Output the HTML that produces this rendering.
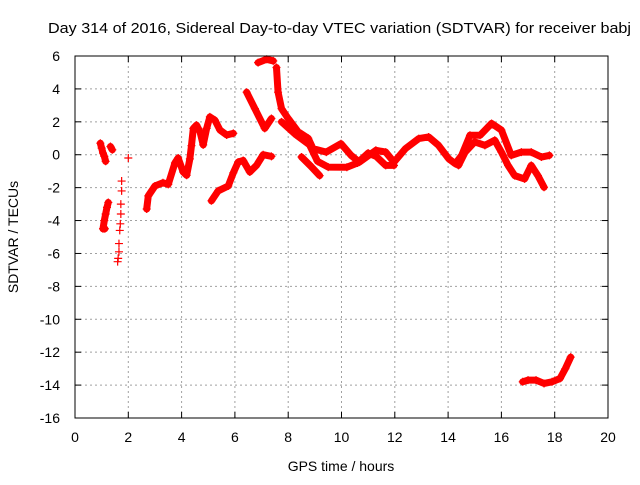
<!DOCTYPE html>
<html><head><meta charset="utf-8"><style>
body{margin:0;background:#fff}
svg text{font-family:"Liberation Sans",sans-serif;font-size:14px;fill:#000}
</style></head><body>
<svg width="640" height="480" viewBox="0 0 640 480" xmlns="http://www.w3.org/2000/svg">
<rect width="640" height="480" fill="#fff"/>
<g id="grid"></g>
<g id="ticks"></g>
<g id="marks"></g>
<rect x="75" y="56" width="533" height="362" fill="none" stroke="#000" stroke-width="1"/>
<text x="48" y="33" textLength="583" lengthAdjust="spacingAndGlyphs" style="font-size:15px">Day 314 of 2016, Sidereal Day-to-day VTEC variation (SDTVAR) for receiver babj</text>
<text x="341" y="471" text-anchor="middle">GPS time / hours</text>
<text x="18" y="237" text-anchor="middle" transform="rotate(-90 18 237)">SDTVAR / TECUs</text>
</svg>
<script>
const xTicks=[0,2,4,6,8,10,12,14,16,18,20];
const yTicks=[6,4,2,0,-2,-4,-6,-8,-10,-12,-14,-16];
const trackA=[[0.95,0.7],[1.0,0.4],[1.05,0.1],[1.1,-0.1],[1.15,-0.4]];
const trackB=[[1.33,0.5],[1.4,0.3]];
const trackC=[[1.25,-2.9],[1.2,-3.2],[1.15,-3.6],[1.1,-4.0],[1.05,-4.5],[1.12,-4.5]];
const trackD=[[1.75,-1.6],[1.75,-2.2],[1.72,-3.0],[1.72,-3.6],[1.7,-4.2],[1.68,-4.6],[1.65,-5.4],[1.65,-5.9],[1.62,-6.3],[1.6,-6.5]];
const trackE=[[2.0,-0.2]];
const trackF=[[2.69,-3.3],[2.75,-2.5],[3.0,-1.9],[3.3,-1.7],[3.5,-1.8],[3.75,-0.5],[3.87,-0.2],[4.06,-1.05],[4.19,-1.25],[4.31,-0.25],[4.37,0.55],[4.44,1.6],[4.56,1.8],[4.69,1.4],[4.81,0.6],[4.94,1.6],[5.06,2.3],[5.25,2.1],[5.44,1.5],[5.69,1.2],[5.94,1.3]];
const trackG=[[5.12,-2.8],[5.37,-2.2],[5.75,-1.9],[5.94,-1.1],[6.12,-0.45],[6.31,-0.35],[6.56,-1.05],[6.81,-0.65],[7.06,0.0],[7.37,-0.1]];
const trackH=[[6.44,3.8],[6.75,2.8],[7.12,1.6],[7.37,2.2]];
const trackI=[[6.87,5.6],[7.19,5.8],[7.44,5.7]];
const trackJ=[[7.56,5.3],[7.62,3.8],[7.75,2.8],[8.0,2.2],[8.37,1.4],[8.75,1.0],[8.93,0.37],[9.43,0.16],[9.98,0.67],[10.36,-0.04],[10.67,-0.45],[11.29,0.27],[11.66,0.16],[11.97,-0.45],[12.4,0.37],[12.9,0.98],[13.27,1.08],[13.64,0.57],[14.02,-0.24],[14.27,-0.55],[14.51,-0.04],[14.82,1.18],[15.2,1.18],[15.63,1.9],[16.0,1.5],[16.37,-0.04],[16.75,0.16],[17.12,0.16],[17.5,-0.14],[17.8,-0.04]];
const trackK=[[7.75,2.0],[8.3,1.2],[8.8,0.6],[9.1,-0.4],[9.5,-0.75],[10.2,-0.76],[10.6,-0.5],[11.0,0.1],[11.3,-0.1],[11.66,-0.65],[11.97,-0.65]];
const trackL=[[8.5,-0.14],[8.85,-0.7],[9.18,-1.27]];
const trackM=[[14.39,-0.65],[14.64,0.16],[15.0,0.78],[15.38,0.57],[15.75,0.88],[16.0,0.16],[16.25,-0.65],[16.5,-1.27],[16.87,-1.47],[17.12,-0.65],[17.37,-1.27],[17.6,-1.98]];
const trackN=[[16.8,-13.8],[17.0,-13.7],[17.3,-13.7],[17.6,-13.9],[17.9,-13.8],[18.2,-13.6],[18.4,-13.0],[18.6,-12.3]];
const lineTracks=[trackA,trackB,trackC,trackF,trackG,trackH,trackI,trackJ,trackK,trackL,trackM,trackN];
const pointTracks=[trackD,trackE];

const NS="http://www.w3.org/2000/svg";
const X=h=>75+h*(533/20);
const Y=v=>56+(6-v)*(362/22);
const grid=document.getElementById('grid'),ticks=document.getElementById('ticks'),marks=document.getElementById('marks');
function mk(tag,attrs,parent){const e=document.createElementNS(NS,tag);for(const k in attrs)e.setAttribute(k,attrs[k]);parent.appendChild(e);return e;}
xTicks.forEach(t=>{const x=X(t);
 if(t>0&&t<20){const g=mk('line',{x1:x,x2:x,y1:56,y2:418,stroke:'#a0a0a0','stroke-dasharray':'2,3'},grid);
 
 }
 mk('line',{x1:x,x2:x,y1:418,y2:412,stroke:'#000'},ticks);mk('line',{x1:x,x2:x,y1:56,y2:62,stroke:'#000'},ticks);
 const l=mk('text',{x:x,y:442,'text-anchor':'middle'},ticks);l.textContent=t;
 
 });
yTicks.forEach(t=>{const y=Y(t);
 if(t<6&&t>-16){const g=mk('line',{x1:75,x2:608,y1:y,y2:y,stroke:'#a0a0a0','stroke-dasharray':'2,3'},grid);
 
 }
 mk('line',{x1:75,x2:81,y1:y,y2:y,stroke:'#000'},ticks);mk('line',{x1:608,x2:602,y1:y,y2:y,stroke:'#000'},ticks);
 const l=mk('text',{x:60,y:y+5,'text-anchor':'end'},ticks);l.textContent=t;
 
 });
function plus(p){const x=X(p[0]),y=Y(p[1]);
 const e=mk('path',{d:`M${x-4},${y}H${x+4}M${x},${y-4}V${y+4}`,stroke:'#f00','stroke-width':1.2,fill:'none'},marks);
 
 }
lineTracks.forEach(tr=>{
 const pl=mk('polyline',{points:tr.map(p=>X(p[0])+','+Y(p[1])).join(' '),fill:'none',stroke:'#f00','stroke-width':7,'stroke-linejoin':'round','stroke-linecap':'round'},marks);
 
 
 tr.forEach(plus);});
pointTracks.forEach(tr=>tr.forEach(plus));
</script>
</body></html>
